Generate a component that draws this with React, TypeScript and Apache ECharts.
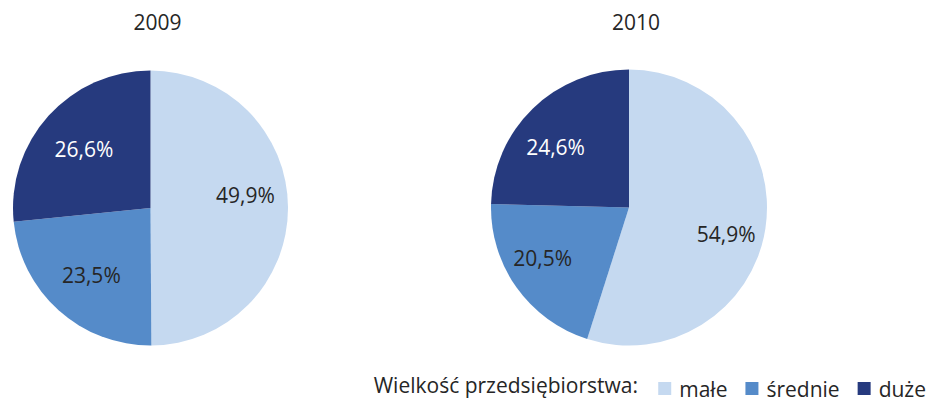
import React, { useEffect, useRef } from "react";
import * as echarts from "echarts";

const categories = ["małe", "średnie", "duże"];
const years = ["2009", "2010"];
const values2009 = [49.9, 23.5, 26.6];
const values2010 = [54.9, 20.5, 24.6];
const legendTitle = "Wielkość przedsiębiorstwa:";

const colors = ["#C5D9F0", "#558BC9", "#263A7E"];
const labelColors = ["#262626", "#262626", "#FFFFFF"];
// small label nudges (px) per pie, per slice, to mimic the original placement
const labelNudges = [
  [[-7, -13], [9, -9], [9, 9]],
  [[-4, 11], [-3, -9], [-2, 13]],
];
const FONT = "'Open Sans', sans-serif";

const fmt = (v: number) => v.toFixed(1).replace(".", ",") + "%";

export default function App() {
  const ref = useRef<HTMLDivElement>(null);
  useEffect(() => {
    document.body.style.margin = "0";
    if (!ref.current) return;
    const chart = echarts.init(ref.current, undefined, { renderer: "svg" });
    const pies = [
      { values: values2009, center: [150.5, 208], r: 137.5 },
      { values: values2010, center: [629, 207.5], r: 138 },
    ];
    const series: any[] = [];
    pies.forEach((p) => {
      series.push({
        type: "pie",
        center: p.center,
        radius: [0, p.r],
        startAngle: 90,
        clockwise: true,
        silent: true,
        label: { show: false },
        labelLine: { show: false },
        emphasis: { disabled: true },
        data: categories.map((c, i) => ({
          name: c,
          value: p.values[i],
          itemStyle: { color: colors[i] },
        })),
      });
    });
    pies.forEach((p, pi) => {
      series.push({
        type: "pie",
        center: p.center,
        radius: [p.r * 0.44, p.r],
        startAngle: 90,
        clockwise: true,
        silent: true,
        legendHoverLink: false,
        itemStyle: { color: "transparent" },
        labelLine: { show: false },
        emphasis: { disabled: true },
        label: {
          show: true,
          position: "inside",
          fontFamily: FONT,
          fontSize: 21,
          formatter: (d: any) => fmt(d.value),
        },
        data: categories.map((c, i) => ({
          name: c,
          value: p.values[i],
          label: { color: labelColors[i], offset: labelNudges[pi][i] },
        })),
      });
    });
    chart.setOption({
      animation: false,
      title: years.map((y, i) => ({
        text: y,
        left: pies[i].center[0] + 2,
        top: 6,
        textAlign: "center",
        textStyle: { fontFamily: FONT, fontSize: 21, fontWeight: "normal", color: "#262626" },
      })),
      legend: {
        data: categories,
        right: 4,
        top: 378,
        icon: "rect",
        itemWidth: 13,
        itemHeight: 13,
        itemGap: 18,
        padding: 0,
        selectedMode: false,
        textStyle: { fontFamily: FONT, fontSize: 21, color: "#262626", padding: [0, 0, 0, 3] },
      },
      graphic: [
        {
          type: "text",
          right: 930 - 638,
          top: 374,
          style: { text: legendTitle, font: `21px ${FONT}`, fill: "#262626", textAlign: "right" },
        },
      ],
      series,
    });
    return () => chart.dispose();
  }, []);
  return (
    <div
      ref={ref}
      style={{ position: "fixed", left: 0, top: 0, width: 930, height: 401, background: "#fff" }}
    />
  );
}
